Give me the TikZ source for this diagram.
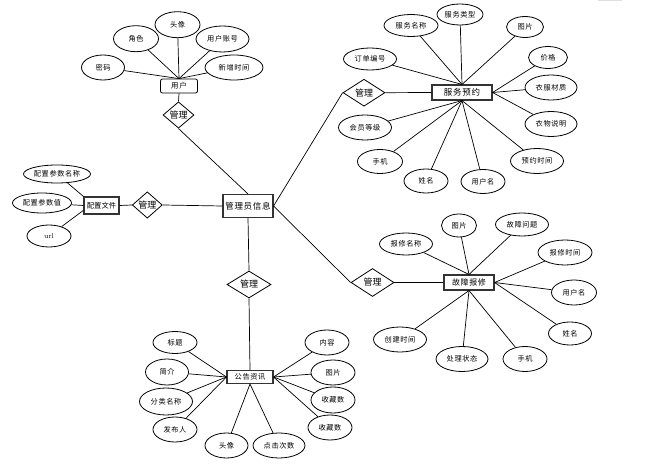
\documentclass[tikz,border=0pt]{standalone}
\usepackage{fontspec}
\newfontfamily\cjk[LetterSpace=8]{Noto Sans CJK SC}
\newfontfamily\cjkb{Noto Sans CJK SC}
\usetikzlibrary{shapes.geometric}
\begin{document}
\begin{tikzpicture}[x=1pt,y=-1pt,
  attr/.style={ellipse, draw, line width=0.8pt, inner sep=0pt, font=\cjk\fontsize{7.2}{8}\selectfont},
  ent/.style={rectangle, draw=black!80, line width=1.1pt, inner sep=0pt, font=\cjk\fontsize{8.5}{10}\selectfont},
  rel/.style={diamond, draw, line width=0.8pt, inner sep=0pt, font=\cjkb\fontsize{9}{10}\selectfont},
  link/.style={line width=0.7pt}]
\useasboundingbox (0,0) rectangle (662,473);
\fill[gray!25] (598,0) rectangle (622,1.5);

% entities
\node[rectangle, draw, rounded corners=2pt, line width=0.8pt, inner sep=0pt, font=\cjk\fontsize{7.5}{9}\selectfont, minimum width=37pt, minimum height=14pt] (u) at (179,86) {用户};
\node[ent, minimum width=50pt, minimum height=23pt] (adm) at (248,206) {管理员信息};
\node[ent, minimum width=35pt, minimum height=17pt, font=\cjkb\fontsize{7.3}{9}\selectfont] (cfg) at (101.5,205.5) {配置文件};
\node[ent, minimum width=60pt, minimum height=15pt] (svc) at (462,92.5) {服务预约};
\node[ent, minimum width=50pt, minimum height=15pt, font=\cjk\fontsize{8}{9}\selectfont] (rep) at (469,282.5) {故障报修};
\node[ent, minimum width=46pt, minimum height=13pt, font=\cjk\fontsize{7.2}{8}\selectfont] (ann) at (250,377) {公告资讯};

% relations
\node[rel, minimum width=31pt, minimum height=22pt] (d1) at (178.5,115) {管理};
\node[rel, minimum width=30pt, minimum height=20pt] (d2) at (147.3,205) {管理};
\node[rel, minimum width=42pt, minimum height=27pt] (d3) at (364,92.7) {管理};
\node[rel, minimum width=43pt, minimum height=28pt] (d4) at (372.5,282.5) {管理};
\node[rel, minimum width=44pt, minimum height=27pt] (d5) at (249,284.5) {管理};

\draw[link] (u.south) -- (d1.north);
\draw[link] (d1.south) -- (adm.north);
\draw[link] (cfg.east) -- (d2.west);
\draw[link] (d2.east) -- (adm.west);
\draw[link] (adm.east) -- (d3.west);
\draw[link] (d3.east) -- (svc.west);
\draw[link] (adm.east) -- (d4.west);
\draw[link] (d4.east) -- (rep.west);
\draw[link] (adm.south) -- (d5.north);
\draw[link] (d5.south) -- (ann.north);

% user attributes
\node[attr, minimum width=43pt, minimum height=25pt] (ua1) at (103,67.5) {密码};
\node[attr, minimum width=45pt, minimum height=26pt] (ua2) at (136,38.7) {角色};
\node[attr, minimum width=45pt, minimum height=26pt] (ua3) at (177.5,24.7) {头像};
\node[attr, minimum width=53pt, minimum height=26pt] (ua4) at (222.5,39) {用户账号};
\node[attr, minimum width=58pt, minimum height=25pt] (ua5) at (234,67.5) {新增时间};
\foreach \a in {ua1,ua2,ua3,ua4,ua5} \draw[link] (\a) -- (u.north);

% config attributes
\node[attr, minimum width=67pt, minimum height=18pt] (c1) at (57,174) {配置参数名称};
\node[attr, minimum width=59pt, minimum height=20pt] (c2) at (42,203) {配置参数值};
\node[attr, minimum width=44pt, minimum height=22pt, font=\rmfamily\fontsize{7}{8}\selectfont] (c3) at (49,236) {url};
\draw[link] (c1) -- (cfg.north west);
\draw[link] (c2) -- (cfg.west);
\draw[link] (c3) -- (cfg.195);

% service attributes
\node[attr, minimum width=53pt, minimum height=22pt] (s1) at (370,59) {订单编号};
\node[attr, minimum width=54pt, minimum height=22pt] (s2) at (411,25.5) {服务名称};
\node[attr, minimum width=46pt, minimum height=21pt] (s3) at (460,14.5) {服务类型};
\node[attr, minimum width=37pt, minimum height=21pt] (s4) at (525,27) {图片};
\node[attr, minimum width=39pt, minimum height=22pt] (s5) at (548,57.5) {价格};
\node[attr, minimum width=52pt, minimum height=25pt] (s6) at (551,87.5) {衣服材质};
\node[attr, minimum width=52pt, minimum height=25pt] (s7) at (551,124) {衣物说明};
\node[attr, minimum width=53pt, minimum height=25pt] (s8) at (537,161) {预约时间};
\node[attr, minimum width=44pt, minimum height=24pt] (s9) at (483,181.5) {用户名};
\node[attr, minimum width=44pt, minimum height=24pt] (s10) at (426,181) {姓名};
\node[attr, minimum width=45pt, minimum height=24pt] (s11) at (380,161.5) {手机};
\node[attr, minimum width=53pt, minimum height=25pt] (s12) at (365,127.5) {会员等级};
\foreach \a in {s1,s2,s3,s4} \draw[link] (\a) -- (svc.north);
\foreach \a in {s5,s6,s7} \draw[link] (\a) -- (svc.east);
\foreach \a in {s8,s9,s10,s11,s12} \draw[link] (\a) -- (svc.south);

% fault attributes
\node[attr, minimum width=53pt, minimum height=22pt] (r1) at (406,244) {报修名称};
\node[attr, minimum width=35pt, minimum height=23pt] (r2) at (459,225.5) {图片};
\node[attr, minimum width=53pt, minimum height=23pt] (r3) at (522,224.5) {故障问题};
\node[attr, minimum width=54pt, minimum height=25pt] (r4) at (565,252.5) {报修时间};
\node[attr, minimum width=45pt, minimum height=25pt] (r5) at (574,292.5) {用户名};
\node[attr, minimum width=43pt, minimum height=23pt] (r6) at (570,333.5) {姓名};
\node[attr, minimum width=44pt, minimum height=25pt] (r7) at (525,359) {手机};
\node[attr, minimum width=52pt, minimum height=25pt] (r8) at (462,359) {处理状态};
\node[attr, minimum width=53pt, minimum height=25pt] (r9) at (400,339.5) {创建时间};
\foreach \a in {r1,r2,r3} \draw[link] (\a) -- (rep.north);
\foreach \a in {r4,r5,r6} \draw[link] (\a) -- (rep.east);
\foreach \a in {r7,r8,r9} \draw[link] (\a) -- (rep.south);

% announcement attributes
\node[attr, minimum width=44pt, minimum height=22pt] (a1) at (175,342.5) {标题};
\node[attr, minimum width=43pt, minimum height=26pt] (a2) at (167,372) {简介};
\node[attr, minimum width=53pt, minimum height=27pt] (a3) at (166,401.5) {分类名称};
\node[attr, minimum width=44pt, minimum height=25pt] (a4) at (175,429.5) {发布人};
\node[attr, minimum width=43pt, minimum height=25pt] (a5) at (226.5,445.5) {头像};
\node[attr, minimum width=52pt, minimum height=25pt] (a6) at (279,445.5) {点击次数};
\node[attr, minimum width=44pt, minimum height=25pt] (a7) at (330,427.5) {收藏数};
\node[attr, minimum width=44pt, minimum height=26pt] (a8) at (333,400) {收藏数};
\node[attr, minimum width=44pt, minimum height=25pt] (a9) at (333,372.5) {图片};
\node[attr, minimum width=44pt, minimum height=25pt] (a10) at (327,342.5) {内容};
\foreach \a in {a1,a2,a3,a4} \draw[link] (\a) -- (ann.west);
\foreach \a in {a5,a6} \draw[link] (\a) -- (ann.south);
\foreach \a in {a7,a8,a9,a10} \draw[link] (\a) -- (ann.east);
\end{tikzpicture}
\end{document}
